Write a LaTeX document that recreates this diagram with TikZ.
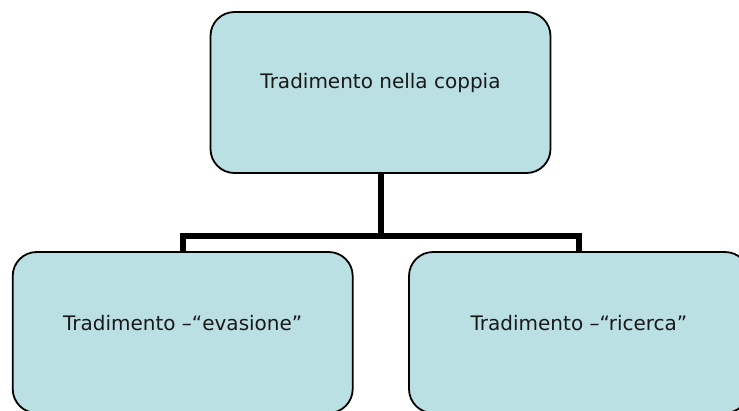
\documentclass[tikz,border=0pt]{standalone}
\usepackage{fontspec}
\setmainfont{DejaVu Sans}
\usepackage{tikz}
\usetikzlibrary{positioning}

\definecolor{boxfill}{RGB}{187,224,227}

\begin{document}
\begin{tikzpicture}[x=1pt, y=-1pt,
    treebox/.style={draw=black, line width=1.8pt, fill=boxfill, rounded corners=24pt,
      minimum width=\boxw pt, minimum height=\boxh pt, inner sep=0pt},
    boxtext/.style={font=\fontsize{20}{24}\selectfont, text=black!90, inner sep=0pt},
    link/.style={line width=6pt, black}]
      % Sizes
      \pgfmathsetmacro{\boxw}{340}
      \pgfmathsetmacro{\boxh}{161}
      \pgfmathsetmacro{\textup}{9.5}
      \useasboundingbox (0,0) rectangle (739,410);

      % boxes
      \node[treebox, label={[boxtext, yshift=\textup pt]center:Tradimento nella coppia}] (coppia) at (380.5,92.5) {};
      \node[treebox, label={[boxtext, yshift=\textup pt]center:Tradimento –“evasione”}] (evasione) at (182.7,332.5) {};
      \node[treebox, label={[boxtext, yshift=\textup pt]center:Tradimento –“ricerca”}] (ricerca) at (579,332.5) {};

      % connectors
      \draw[link] (coppia.south) -- ++(0,62.5) -| (evasione.north);
      \draw[link] (coppia.south) -- ++(0,62.5) -| (ricerca.north);
\end{tikzpicture}
\end{document}
